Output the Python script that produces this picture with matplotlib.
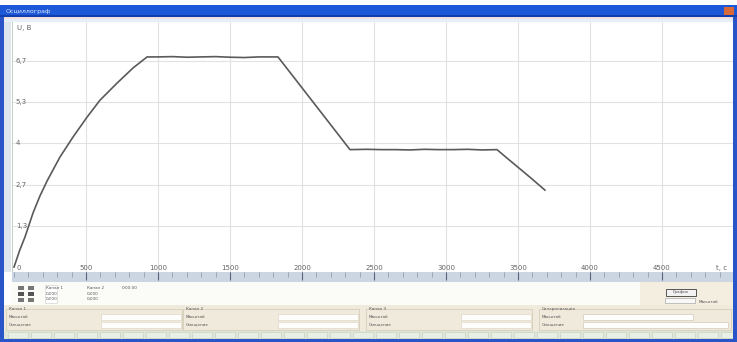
import numpy as np
import matplotlib.pyplot as plt
from matplotlib.patches import Rectangle

# Напряжение на выходе, снятое по точкам (t в секундах, U в вольтах)
t_rise = [0, 40, 76, 132, 180, 229, 319, 410, 507, 597, 715, 826, 924]
u_rise = [0.0, 0.55, 0.97, 1.75, 2.30, 2.78, 3.56, 4.21, 4.85, 5.40, 5.95, 6.44, 6.80]

t_hold1 = [1000, 1100, 1200, 1300, 1400, 1500, 1600, 1700, 1833]
u_hold1 = [6.80, 6.81, 6.79, 6.80, 6.81, 6.79, 6.78, 6.80, 6.80]

t_fall1 = [1950, 2050, 2150, 2250, 2333]
u_fall1 = [6.10, 5.50, 4.90, 4.30, 3.80]

t_hold2 = [2450, 2550, 2650, 2750, 2850, 2950, 3050, 3150, 3250, 3354]
u_hold2 = [3.81, 3.80, 3.80, 3.79, 3.81, 3.80, 3.80, 3.81, 3.79, 3.80]

t_fall2 = [3420, 3500, 3600, 3687]
u_fall2 = [3.54, 3.23, 2.84, 2.49]

x_ticks = [500, 1000, 1500, 2000, 2500, 3000, 3500, 4000, 4500]
y_ticks = [1.333, 2.667, 4.0, 5.333, 6.667]
y_labels = ["1,3", "2,7", "4", "5,3", "6,7"]

t = t_rise + t_hold1 + t_fall1 + t_hold2 + t_fall2
u = u_rise + u_hold1 + u_fall1 + u_hold2 + u_fall2

W, H = 737, 342
fig = plt.figure(figsize=(W / 100, H / 100), dpi=100)
fig.patch.set_facecolor("white")


def box(x, y, w, h, fc, ec="none", lw=0.6):
    # прямоугольник в пикселях окна (y отсчитывается сверху)
    fig.patches.append(Rectangle((x / W, 1 - (y + h) / H), w / W, h / H,
                                 transform=fig.transFigure, facecolor=fc,
                                 edgecolor=ec, linewidth=lw))


def label(x, y, s, size=4.5, color="#555555", **kw):
    fig.text(x / W, 1 - y / H, s, fontsize=size, color=color, va="center", **kw)


# заголовок окна
box(0, 5, W, 12, "#1d58d8")
box(0, 15, W, 2, "#0f3fae")
box(0, 17, W, 2, "#f3dede")
box(0, 19, W, 3, "#e6eef8")
box(724, 7, 10, 8, "#d86a3a")
label(6, 11, "Осциллограф", size=4.5, color="#dfe8ff")

# рамка слева
box(0, 17, 4, 325, "#2a55c8")
box(4, 22, 7, 250, "#dfe6ee")

# график
ax = fig.add_axes([12 / W, 70 / H, 722 / W, 250 / H])
ax.set_xlim(-14, 5000)
ax.set_ylim(-0.16, 7.93)
ax.set_xticks(x_ticks)
ax.set_yticks(y_ticks)
ax.tick_params(length=0, labelbottom=False, labelleft=False)
ax.grid(True, color="#e2e2e2", linewidth=0.8)
for s in ax.spines.values():
    s.set_visible(False)
ax.axvline(-12, color="#b8c8b8", linewidth=1.2)

ax.plot(t, u, color="#5a5a5a", linewidth=1.2, solid_joinstyle="round")

ax.text(20, 7.75, "U, В", fontsize=5, color="#666666", va="center")
ax.text(15, -0.02, "0", fontsize=5, color="#666666", va="center")
for yv, yl in zip(y_ticks, y_labels):
    ax.text(12, yv, yl, fontsize=5, color="#666666", va="center")
for xv in x_ticks:
    ax.text(xv, -0.02, str(xv), fontsize=5, color="#666666", va="center", ha="center")
ax.text(4950, -0.02, "t, c", fontsize=5, color="#666666", va="center", ha="right")

# линейка времени
rl = fig.add_axes([12 / W, 60 / H, 722 / W, 10 / H])
rl.set_xlim(-14, 5000)
rl.set_ylim(0, 1)
rl.set_facecolor("#ccd6e3")
rl.set_xticks([])
rl.set_yticks([])
for s in rl.spines.values():
    s.set_visible(False)
rl.vlines(np.arange(0, 5000, 100), 0.55, 1.0, color="#8593a6", linewidth=0.5)
rl.vlines(x_ticks, 0.2, 1.0, color="#56657a", linewidth=0.8)

# нижняя панель
box(11, 282, 726, 23, "#fbfbf8")
box(640, 282, 97, 23, "#f3eee0")
for i, c in enumerate(["#777777", "#555555", "#777777"]):
    box(18, 286 + i * 6, 6, 4, c)
    box(28, 286 + i * 6, 6, 4, c)
box(45, 285, 12, 18, "#ffffff", "#cccccc", 0.4)
label(46, 288, "Канал 1", size=3)
label(46, 294, "0,000", size=3)
label(46, 299, "0,000", size=3)
label(87, 288, "Канал 2", size=3)
label(87, 294, "0,000", size=3)
label(87, 299, "0,000", size=3)
label(122, 288, "0:00:00", size=3)
box(666, 289, 30, 7, "#f2f2f2", "#555555", 0.7)
label(673, 292.5, "График", size=3)
box(665, 298, 30, 5, "#f8f8f8", "#999999", 0.4)
label(699, 302, "Масштаб", size=3)

box(4, 305, 733, 26, "#efeadb")
groups = [(6, 180, "Канал 1"), (183, 180, "Канал 2"), (366, 170, "Канал 3"), (539, 196, "Синхронизация")]
for gx, gw, gt in groups:
    box(gx, 309, gw - 4, 21, "none", "#cfc8b4", 0.5)
    label(gx + 3, 309, gt, size=3)
    label(gx + 3, 317, "Масштаб", size=3)
    label(gx + 3, 325, "Смещение", size=3)
for gx, gw, gt in groups[:3]:
    box(gx + 95, 314, gw - 100, 6, "#fdfdfb", "#d8d2c0", 0.4)
    box(gx + 95, 322, gw - 100, 6, "#fdfdfb", "#d8d2c0", 0.4)
box(583, 314, 110, 6, "#fdfdfb", "#c8c2b0", 0.4)
box(583, 322, 145, 6, "#fdfdfb", "#c8c2b0", 0.4)

# строка состояния
box(4, 331, 733, 8, "#dfe6d8")
for sx in range(8, 730, 23):
    box(sx, 332, 20, 6, "#e9efe4", "#c2ccbc", 0.4)
box(0, 339, W, 3, "#2a55c8")
box(733, 17, 4, 325, "#2a55c8")

fig.savefig("out.png", dpi=100)
